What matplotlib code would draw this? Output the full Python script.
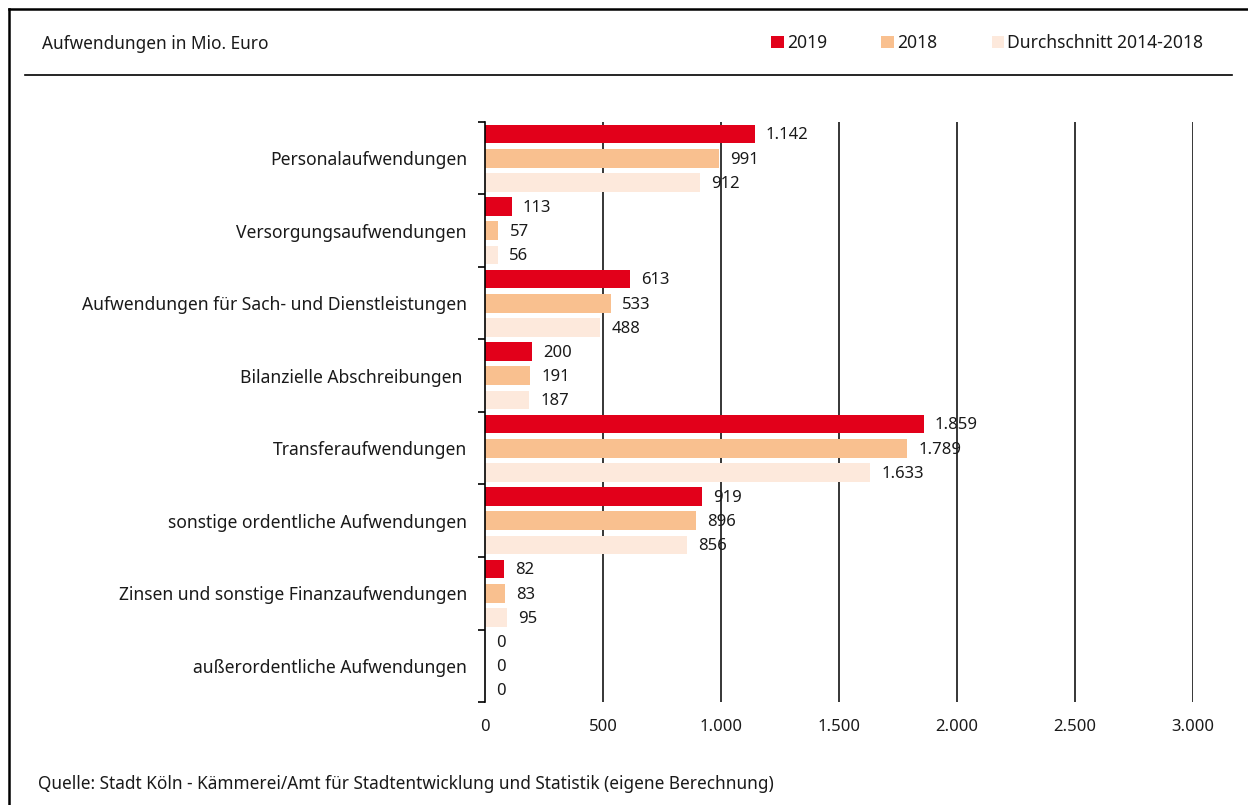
import numpy as np
import matplotlib.pyplot as plt
from matplotlib.lines import Line2D
from matplotlib.ticker import FuncFormatter

plt.rcParams['font.family'] = ['Noto Sans', 'DejaVu Sans']

categories = ["Personalaufwendungen", "Versorgungsaufwendungen",
              "Aufwendungen für Sach- und Dienstleistungen", "Bilanzielle Abschreibungen ",
              "Transferaufwendungen", "sonstige ordentliche Aufwendungen",
              "Zinsen und sonstige Finanzaufwendungen", "außerordentliche Aufwendungen"]
v2019 = [1142, 113, 613, 200, 1859, 919, 82, 0]
v2018 = [991, 57, 533, 191, 1789, 896, 83, 0]
vavg = [912, 56, 488, 187, 1633, 856, 95, 0]
series_names = ["2019", "2018", "Durchschnitt 2014-2018"]
colors = ["#E2001A", "#F9C08F", "#FDE9DC"]

def de(v, pos=None):
    return f"{v:,.0f}".replace(",", ".")

W, H = 1248, 805
fig = plt.figure(figsize=(W / 100, H / 100), dpi=100)
ax = fig.add_axes([485 / W, 1 - 702 / H, (1193 - 485) / W, (702 - 122) / H])

y = np.arange(len(categories))
off = 0.335
h = 0.26
for i, (vals, name, c) in enumerate(zip([v2019, v2018, vavg], series_names, colors)):
    yy = y + (i - 1) * off
    ax.barh(yy, vals, height=h, color=c, label=name, zorder=2)
    for yv, v in zip(yy, vals):
        ax.annotate(de(v), (v, yv), xytext=(8, -1), textcoords="offset points",
                    va="center", ha="left", fontsize=12, color="#1a1a1a", zorder=1)

ax.set_xlim(0, 3000)
ax.set_ylim(len(categories) - 0.5, -0.5)
ax.set_xticks(np.arange(0, 3001, 500))
ax.xaxis.set_major_formatter(FuncFormatter(de))
ax.tick_params(axis="x", length=0, pad=12, labelsize=12, labelcolor="#1a1a1a")
ax.set_yticks(y)
ax.set_yticklabels(categories)
ax.tick_params(axis="y", which="major", length=0, pad=13, labelsize=12.6, labelcolor="#1a1a1a")
ax.set_yticks(np.arange(-0.5, len(categories)), minor=True)
ax.tick_params(axis="y", which="minor", length=5, width=1.2, color="black")
for s in ["top", "right", "bottom"]:
    ax.spines[s].set_visible(False)
ax.spines["left"].set_linewidth(1.2)
for gx in range(500, 3001, 500):
    ax.axvline(gx, color="black", lw=1.1, zorder=0.5)

# frame and header
fig.add_artist(Line2D([9 / W, 9 / W], [0, 1 - 9 / H], color="black", lw=1.8))
fig.add_artist(Line2D([9 / W, 1], [1 - 9 / H, 1 - 9 / H], color="black", lw=1.8))
fig.add_artist(Line2D([25 / W, 1232 / W], [1 - 75 / H, 1 - 75 / H], color="black", lw=1.2))
fig.text(42 / W, 1 - 44 / H, "Aufwendungen in Mio. Euro", fontsize=12.4, va="center", ha="left", color="#1a1a1a")
fig.text(38 / W, 1 - 784 / H, "Quelle: Stadt Köln - Kämmerei/Amt für Stadtentwicklung und Statistik (eigene Berechnung)",
         fontsize=12.4, va="center", ha="left", color="#1a1a1a")
fig.legend(loc="center right", bbox_to_anchor=(1219 / W, 1 - 43 / H), ncol=3, frameon=False,
           handlelength=0.7, handleheight=0.7, handletextpad=0.2, columnspacing=3.1,
           fontsize=12.6, labelcolor="#1a1a1a")

fig.savefig("out.png", dpi=100)
